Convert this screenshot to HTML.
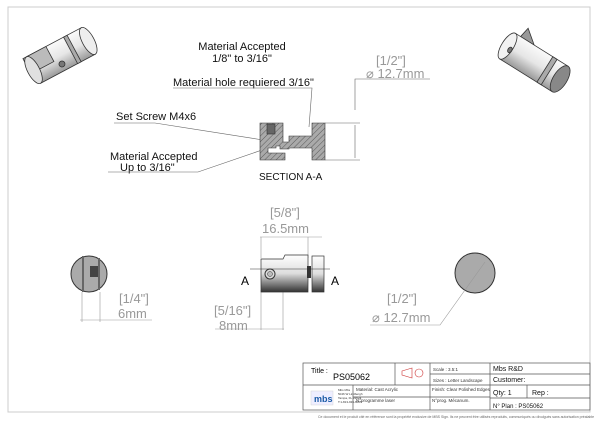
<!DOCTYPE html>
<html><head><meta charset="utf-8"><style>
body{margin:0;background:#fff;width:600px;height:424px;overflow:hidden}
svg{display:block;font-family:"Liberation Sans",sans-serif}
</style></head><body>
<svg width="600" height="424" viewBox="0 0 600 424">
<defs>
<pattern id="h" width="4" height="4" patternUnits="userSpaceOnUse" patternTransform="rotate(45)"><rect width="4" height="4" fill="#aaa"/><line x1="0" y1="0" x2="0" y2="4" stroke="#444" stroke-width="0.8"/></pattern>
<linearGradient id="cy" x1="0" y1="0" x2="0" y2="1"><stop offset="0" stop-color="#fff"/><stop offset="0.5" stop-color="#ddd"/><stop offset="1" stop-color="#333"/></linearGradient>
<linearGradient id="cv" x1="0" y1="0" x2="0" y2="1"><stop offset="0" stop-color="#fafafa"/><stop offset="0.5" stop-color="#e6e6e6"/><stop offset="1" stop-color="#999"/></linearGradient>
</defs>
<rect x="8" y="7" width="582" height="405" fill="none" stroke="#ccc" stroke-width="1"/>
<!-- iso left -->
<g transform="translate(60,56) rotate(-28)" stroke="#333" stroke-width="0.8">
<rect x="-30" y="-15" width="62" height="30" fill="url(#cv)"/>
<rect x="12" y="-15" width="4" height="30" fill="#aaa"/>
<ellipse cx="32" cy="0" rx="6" ry="15" fill="#eee"/>
<path d="M-34 -15 L-8 -15 L-8 2 L-34 2 Z" fill="#bbb"/>
<ellipse cx="-30" cy="0" rx="6" ry="15" fill="#e0e0e0"/>
<ellipse cx="-2" cy="8" rx="3" ry="3" fill="#777"/>
</g>
<!-- iso right -->
<g transform="translate(533,62) rotate(32)" stroke="#333" stroke-width="0.8">
<path d="M-24 -15 L-22 -26 L-8 -15 Z" fill="#999"/>
<rect x="-30" y="-15" width="62" height="30" fill="url(#cv)"/>
<ellipse cx="-30" cy="0" rx="6" ry="15" fill="#f2f2f2"/>
<rect x="14" y="-15" width="5" height="30" fill="#aaa"/>
<ellipse cx="32" cy="0" rx="7" ry="15" fill="#888"/>
<ellipse cx="-26" cy="2" rx="2" ry="3" fill="#777"/>
</g>
<!-- section -->
<g font-size="11" fill="#111">
<text x="242" y="50" text-anchor="middle">Material Accepted</text>
<text x="242" y="62" text-anchor="middle">1/8" to 3/16"</text>
<text x="173" y="86">Material hole requiered 3/16"</text>
<text x="116" y="120">Set Screw M4x6</text>
<text x="110" y="160">Material Accepted</text>
<text x="120" y="171">Up to 3/16"</text>
<text x="259" y="180" font-size="10">SECTION A-A</text>
</g>
<g stroke="#666" stroke-width="0.6" fill="none">
<polyline points="173,88 312,88 309,127"/>
<polyline points="114,123 155,123 263,140"/>
<polyline points="108,172 198,172 262,150"/>
<line x1="325" y1="123" x2="360" y2="123"/><line x1="325" y1="160" x2="360" y2="160"/>
<line x1="355" y1="125" x2="355" y2="158"/>
<polyline points="355,110 355,79 430,79"/>
</g>
<g stroke="#333" stroke-width="0.6">
<path d="M260 123 L283 123 L283 142 L289 142 L289 136 L312 136 L312 123 L325 123 L325 160 L312 160 L312 148 L289 148 L289 149 L280 149 L280 146 L276 146 L276 148 L268 148 L268 153 L285 153 L285 160 L260 160 Z" fill="url(#h)"/>
<rect x="267" y="124" width="8" height="10" fill="#666"/>
</g>
<text x="376" y="65" font-size="13" fill="#999">[1/2"]</text>
<text x="366" y="78" font-size="13" fill="#999">⌀ 12.7mm</text>
<!-- left end view -->
<circle cx="89" cy="274" r="18" fill="#aaa" stroke="#333" stroke-width="1"/>
<rect x="82" y="256" width="2" height="36" fill="#666"/><rect x="98" y="258" width="2" height="32" fill="#666"/>
<rect x="90" y="266" width="8" height="11" fill="#444"/>
<g stroke="#999" stroke-width="0.6"><line x1="82" y1="292" x2="82" y2="322"/><line x1="100" y1="292" x2="100" y2="322"/><line x1="80" y1="320" x2="152" y2="320"/></g>
<text x="119" y="303" font-size="13" fill="#999">[1/4"]</text>
<text x="118" y="318" font-size="13" fill="#999">6mm</text>
<!-- front view -->
<g stroke="#999" stroke-width="0.6"><line x1="260" y1="237" x2="322" y2="237"/><line x1="261" y1="237" x2="261" y2="258"/><line x1="308" y1="237" x2="308" y2="258"/>
<line x1="261" y1="290" x2="261" y2="330"/><line x1="283" y1="290" x2="283" y2="330"/><line x1="215" y1="329" x2="284" y2="329"/></g>
<text x="270" y="217" font-size="13" fill="#999">[5/8"]</text>
<text x="262" y="233" font-size="13" fill="#999">16.5mm</text>
<text x="214" y="315" font-size="13" fill="#999">[5/16"]</text>
<text x="219" y="330" font-size="13" fill="#999">8mm</text>
<path d="M261 259 L283 259 L285 255 L308 255 L308 292 L261 292 Z" fill="url(#cy)" stroke="#333" stroke-width="0.7"/>
<rect x="312" y="256" width="12" height="36" fill="url(#cy)" stroke="#333" stroke-width="0.7"/>
<circle cx="270" cy="274" r="5" fill="#ddd" stroke="#333"/><circle cx="270" cy="274" r="2.5" fill="#bbb" stroke="#333" stroke-width="0.5"/>
<rect x="307" y="266" width="4" height="12" fill="#333"/>
<line x1="250" y1="269" x2="330" y2="269" stroke="#333" stroke-width="0.6"/>
<text x="241" y="285" font-size="12">A</text><text x="331" y="285" font-size="12">A</text>
<!-- right circle -->
<circle cx="475" cy="273" r="20" fill="#aaa" stroke="#333"/>
<polyline points="370,325 440,325 485,262" fill="none" stroke="#999" stroke-width="0.6"/>
<text x="387" y="303" font-size="13" fill="#999">[1/2"]</text>
<text x="372" y="322" font-size="13" fill="#999">⌀ 12.7mm</text>
<!-- title block -->
<g stroke="#555" stroke-width="0.7" fill="none">
<rect x="303" y="363" width="287" height="47"/>
<line x1="303" y1="385" x2="590" y2="385"/>
<line x1="395" y1="363" x2="395" y2="385"/><line x1="430" y1="363" x2="430" y2="410"/>
<line x1="490" y1="363" x2="490" y2="410"/>
<line x1="353" y1="385" x2="353" y2="410"/><line x1="353" y1="397" x2="490" y2="397"/>
<line x1="490" y1="374" x2="590" y2="374"/><line x1="430" y1="374" x2="490" y2="374"/>
<line x1="490" y1="398" x2="590" y2="398"/><line x1="527" y1="385" x2="527" y2="398"/>
</g>
<text x="311" y="373" font-size="7">Title :</text>
<text x="333" y="380" font-size="9">PS05062</text>
<path d="M402 371 L412 368 L412 378 L402 375 Z" fill="none" stroke="#c33" stroke-width="0.6"/>
<circle cx="419" cy="373" r="4" fill="none" stroke="#c33" stroke-width="0.6"/>
<g font-size="4.5" fill="#333"><text x="433" y="371">Scale : 3.5:1</text><text x="433" y="382">Sizes : Letter Landscape</text>
<text x="356" y="391">Material: Cast Acrylic</text><text x="432" y="391">Finish: Clear Polished Edges</text>
<text x="356" y="402">N°programme laser</text><text x="432" y="402">N°prog. Mécanum.</text>
<text x="338" y="391" font-size="3">Mbs Mbs</text>
<text x="338" y="395" font-size="3">5046 W Lindbergh</text>
<text x="338" y="399" font-size="3">Tampa, FL 33624</text>
<text x="338" y="403" font-size="3">T:1-813-936-6025</text>
<text x="318" y="418" font-size="3.5" fill="#666">Ce document et le produit cité en référence sont la propriété exclusive de MBS Sign. Ils ne peuvent être utilisés reproduits, communiqués ou divulgués sans autorisation préalable</text></g>
<rect x="311" y="391" width="22" height="14" fill="#eef" stroke="#ccc" stroke-width="0.4"/>
<text x="314" y="402" font-size="9" font-weight="bold" fill="#1a5aa6">mbs</text>
<g font-size="7" fill="#111"><text x="493" y="371">Mbs R&amp;D</text><text x="493" y="382">Customer:</text>
<text x="493" y="395">Qty: 1</text><text x="532" y="395">Rep :</text><text x="493" y="408" font-size="6">N° Plan : PS05062</text></g>
</svg>
</body></html>
